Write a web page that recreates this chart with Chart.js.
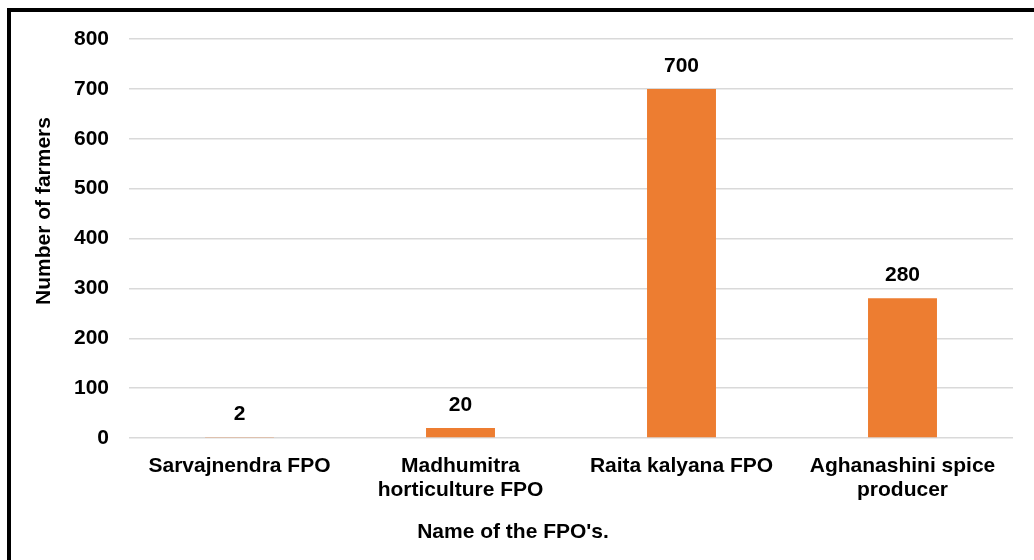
<!DOCTYPE html>
<html>
<head>
<meta charset="utf-8">
<script src="https://cdn.jsdelivr.net/npm/chart.js@4"></script>
<style>
  html, body { margin: 0; padding: 0; background: #fff; }
  #wrap { width: 1034px; height: 560px; position: relative; }
</style>
</head>
<body>
<div id="wrap"><canvas id="fpoChart"></canvas></div>
<script>
const categories = [
  'Sarvajnendra FPO',
  ['Madhumitra', 'horticulture FPO'],
  'Raita kalyana FPO',
  ['Aghanashini spice', 'producer']
];
const farmers = [2, 20, 700, 280];
const yTicks = [0, 100, 200, 300, 400, 500, 600, 700, 800];

const FONT = '"Liberation Sans", Arial, sans-serif';

// frame, axis titles and value labels
const extras = {
  id: 'extras',
  afterDraw(chart) {
    const ctx = chart.ctx;
    ctx.save();
    ctx.strokeStyle = '#000';
    ctx.lineWidth = 4;
    ctx.strokeRect(9, 10, 1100, 700);

    ctx.fillStyle = '#000';
    ctx.font = 'bold 21px ' + FONT;
    ctx.textAlign = 'center';
    ctx.textBaseline = 'middle';
    ctx.fillText("Name of the FPO's.", 513, 532);

    ctx.save();
    ctx.translate(44, 211);
    ctx.rotate(-Math.PI / 2);
    ctx.fillText('Number of farmers', 0, 0);
    ctx.restore();

    const meta = chart.getDatasetMeta(0);
    meta.data.forEach((bar, i) => {
      ctx.fillText(String(farmers[i]), bar.x, bar.y - 23);
    });
    ctx.restore();
  }
};

new Chart(document.getElementById('fpoChart'), {
  type: 'bar',
  data: {
    labels: categories,
    datasets: [{
      label: 'Number of farmers',
      data: farmers,
      backgroundColor: '#ED7D31',
      borderWidth: 0,
      categoryPercentage: 1,
      barPercentage: 0.312
    }]
  },
  options: {
    responsive: true,
    maintainAspectRatio: false,
    animation: false,
    layout: { padding: { top: 39, right: 21, left: 0, bottom: 0 } },
    plugins: {
      legend: { display: false },
      tooltip: { enabled: false }
    },
    scales: {
      x: {
        grid: { display: false },
        border: { display: false },
        ticks: {
          color: '#000',
          font: { family: FONT, size: 21, weight: 'bold', lineHeight: 1.15 },
          padding: 8,
          maxRotation: 0,
          autoSkip: false
        },
        afterFit(scale) { scale.height = 122; }
      },
      y: {
        min: 0,
        max: 800,
        afterBuildTicks(scale) { scale.ticks = yTicks.map(v => ({ value: v })); },
        grid: { color: '#d9d9d9', lineWidth: 1.5, drawTicks: false },
        border: { display: false },
        ticks: {
          color: '#000',
          font: { family: FONT, size: 21, weight: 'bold' },
          padding: 20
        },
        afterFit(scale) { scale.width = 129; }
      }
    }
  },
  plugins: [extras]
});
</script>
</body>
</html>
